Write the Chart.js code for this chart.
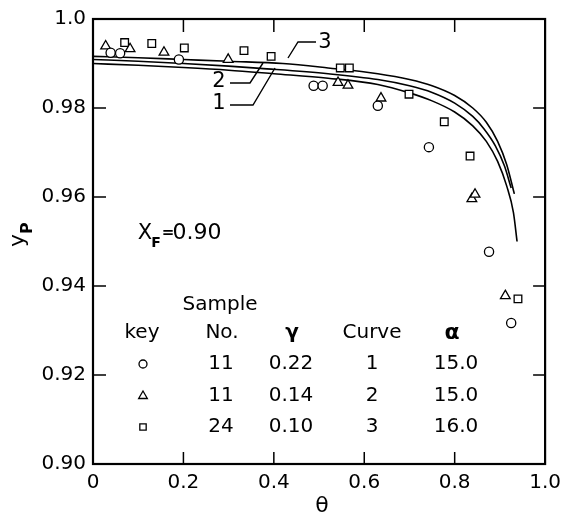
<!DOCTYPE html>
<html><head><meta charset="utf-8">
<script src="https://cdn.jsdelivr.net/npm/chart.js@4.4.1/dist/chart.umd.min.js"></script>
<style>html,body{margin:0;padding:0;background:#fff}#wrap{width:568px;height:516px}</style>
</head><body><div id="wrap"><canvas id="c" width="568" height="516"></canvas></div>
<script>
// Axis ticks
const xTickVals = [0, 0.2, 0.4, 0.6, 0.8, 1.0];
const xTickLabels = ['0', '0.2', '0.4', '0.6', '0.8', '1.0'];
const yTickVals = [0.90, 0.92, 0.94, 0.96, 0.98, 1.0];
const yTickLabels = ['0.90', '0.92', '0.94', '0.96', '0.98', '1.0'];

// Data: sample 11, gamma 0.22 (circles)
const circleTheta = [0.039, 0.060, 0.190, 0.488, 0.508, 0.630, 0.743, 0.876, 0.925];
const circleY     = [0.9924, 0.9923, 0.9909, 0.9850, 0.9850, 0.9805, 0.9712, 0.9477, 0.9317];
// sample 11, gamma 0.14 (triangles)
const triTheta = [0.028, 0.082, 0.157, 0.299, 0.542, 0.564, 0.637, 0.838, 0.845, 0.912];
const triY     = [0.9939, 0.9933, 0.9925, 0.9909, 0.9857, 0.9851, 0.9822, 0.9596, 0.9606, 0.9378];
// sample 24, gamma 0.10 (squares)
const sqTheta = [0.070, 0.130, 0.202, 0.334, 0.394, 0.547, 0.567, 0.699, 0.777, 0.834, 0.940];
const sqY     = [0.9947, 0.9945, 0.9935, 0.9929, 0.9916, 0.9890, 0.9890, 0.9831, 0.9769, 0.9692, 0.9371];

// Calculated curves
const curve1Theta = [0, 0.1, 0.2, 0.3, 0.4, 0.52, 0.63, 0.70, 0.75, 0.80, 0.84, 0.87, 0.895, 0.915, 0.93, 0.938];
const curve1Y     = [0.9900, 0.9896, 0.9891, 0.9885, 0.9877, 0.9867, 0.9853, 0.9834, 0.9816, 0.9791, 0.9760, 0.9725, 0.9680, 0.9625, 0.9565, 0.9500];
const curve2Theta = [0, 0.1, 0.2, 0.3, 0.37, 0.52, 0.63, 0.70, 0.75, 0.80, 0.84, 0.865, 0.89, 0.91, 0.925];
const curve2Y     = [0.9909, 0.9905, 0.9900, 0.9894, 0.9889, 0.9877, 0.9864, 0.9850, 0.9835, 0.9811, 0.9781, 0.9753, 0.9715, 0.9670, 0.9620];
const curve3Theta = [0, 0.1, 0.2, 0.3, 0.42, 0.52, 0.63, 0.70, 0.75, 0.80, 0.84, 0.87, 0.895, 0.915, 0.932];
const curve3Y     = [0.9916, 0.9913, 0.9909, 0.9905, 0.9900, 0.9890, 0.9877, 0.9864, 0.9850, 0.9828, 0.9800, 0.9768, 0.9725, 0.9673, 0.9607];

// Key table
const tableSampleNo = ['11', '11', '24'];
const tableGamma = ['0.22', '0.14', '0.10'];
const tableCurve = ['1', '2', '3'];
const tableAlpha = ['15.0', '15.0', '16.0'];
const tableStyles = ['circle', 'triangle', 'rect'];

const zip = (xs, ys) => xs.map((v, i) => ({x: v, y: ys[i]}));

Chart.defaults.font.family = 'DejaVu Sans';
Chart.defaults.color = '#000';

const F = 'DejaVu Sans';
function txt(ctx, s, x, y, size, weight, align) {
  ctx.font = (weight || 'normal') + ' ' + size + 'px "' + F + '"';
  ctx.textAlign = align || 'center';
  ctx.textBaseline = 'middle';
  ctx.fillText(s, x, y);
}
function marker(ctx, style, r, x, y) {
  ctx.save();
  ctx.fillStyle = '#fff'; ctx.strokeStyle = '#000'; ctx.lineWidth = 1.3;
  if (Chart.helpers && Chart.helpers.drawPoint) {
    Chart.helpers.drawPoint(ctx, {pointStyle: style, radius: r, borderWidth: 1.3, rotation: 0}, x, y);
  }
  ctx.restore();
}

const decor = {
  id: 'decor',
  afterDraw(chart) {
    const {ctx, chartArea: a, scales: {x, y}} = chart;
    ctx.save();
    ctx.strokeStyle = '#000';
    ctx.fillStyle = '#000';
    ctx.lineWidth = 2.2;
    ctx.strokeRect(a.left, a.top, a.right - a.left, a.bottom - a.top);
    ctx.lineWidth = 1.5;
    ctx.beginPath();
    xTickVals.slice(1, -1).forEach(v => {
      const px = x.getPixelForValue(v);
      ctx.moveTo(px, a.bottom); ctx.lineTo(px, a.bottom - 12);
      ctx.moveTo(px, a.top); ctx.lineTo(px, a.top + 13);
    });
    yTickVals.slice(1, -1).forEach(v => {
      const py = y.getPixelForValue(v);
      ctx.moveTo(a.left, py); ctx.lineTo(a.left + 13, py);
      ctx.moveTo(a.right, py); ctx.lineTo(a.right - 12, py);
    });
    ctx.stroke();

    // curve labels with leader lines
    ctx.lineWidth = 1.4;
    ctx.beginPath();
    ctx.moveTo(316, 42); ctx.lineTo(298, 42); ctx.lineTo(288, 58);
    ctx.moveTo(230, 83); ctx.lineTo(250, 83); ctx.lineTo(263, 63);
    ctx.moveTo(230, 105); ctx.lineTo(253, 105); ctx.lineTo(275, 68);
    ctx.stroke();
    txt(ctx, '3', 325, 43, 21);
    txt(ctx, '2', 219, 82, 21);
    txt(ctx, '1', 219, 104, 21);

    // x_F = 0.90
    txt(ctx, 'X', 145, 234, 21, 'normal');
    txt(ctx, 'F', 156, 243, 14, 'bold');
    txt(ctx, '=', 168, 233, 15, 'bold');
    txt(ctx, '0.90', 197, 233, 22, 'normal');

    // y axis title (rotated)
    ctx.save();
    ctx.translate(24, 247);
    ctx.rotate(-Math.PI / 2);
    ctx.textBaseline = 'alphabetic';
    ctx.textAlign = 'left';
    ctx.font = 'normal 22px "' + F + '"';
    ctx.fillText('y', 0, 0);
    ctx.font = 'bold 16px "' + F + '"';
    ctx.fillText('P', 13, 8);
    ctx.restore();

    // x axis title
    txt(ctx, 'θ', 322, 506, 22);

    // key table
    txt(ctx, 'Sample', 220, 305, 20);
    txt(ctx, 'key', 142, 333, 20);
    txt(ctx, 'No.', 222, 333, 20);
    txt(ctx, 'γ', 292, 333, 20, 'bold');
    txt(ctx, 'Curve', 372, 333, 20);
    txt(ctx, 'α', 452, 333, 22, 'bold');
    const rowsY = [364, 396, 427];
    const sizes = {circle: 4, triangle: 5, rect: 4.5};
    rowsY.forEach((ry, i) => {
      marker(ctx, tableStyles[i], sizes[tableStyles[i]], 143, ry);
      ctx.fillStyle = '#000';
      txt(ctx, tableSampleNo[i], 221, ry, 20);
      txt(ctx, tableGamma[i], 291, ry, 20);
      txt(ctx, tableCurve[i], 372, ry, 20);
      txt(ctx, tableAlpha[i], 456, ry, 20);
    });
    ctx.restore();
  }
};

const pointDs = (label, data, style, r) => ({
  label, data, type: 'scatter', showLine: false,
  pointStyle: style, pointRadius: r, pointHoverRadius: r,
  borderColor: '#000', backgroundColor: '#fff', pointBorderWidth: 1.3, borderWidth: 1.3
});
const curveDs = (label, data) => ({
  label, data, type: 'line', showLine: true, fill: false,
  borderColor: '#000', borderWidth: 1.6, pointRadius: 0,
  cubicInterpolationMode: 'monotone'
});

new Chart(document.getElementById('c'), {
  type: 'scatter',
  data: {
    datasets: [
      pointDs('Sample 11, γ 0.22', zip(circleTheta, circleY), 'circle', 4.6),
      pointDs('Sample 11, γ 0.14', zip(triTheta, triY), 'triangle', 5.6),
      pointDs('Sample 24, γ 0.10', zip(sqTheta, sqY), 'rect', 5.4),
      curveDs('Curve 1', zip(curve1Theta, curve1Y)),
      curveDs('Curve 2', zip(curve2Theta, curve2Y)),
      curveDs('Curve 3', zip(curve3Theta, curve3Y))
    ]
  },
  options: {
    responsive: false,
    animation: false,
    devicePixelRatio: 1,
    layout: {padding: {top: 13, right: 17, left: 0, bottom: 0}},
    plugins: {legend: {display: false}, tooltip: {enabled: false}},
    scales: {
      x: {
        type: 'linear', min: 0, max: 1,
        grid: {display: false, drawTicks: false},
        border: {display: false},
        ticks: {autoSkip: false, maxRotation: 0, padding: 7, color: '#000',
          font: {size: 20, family: F}, callback: (v, i) => xTickLabels[i]},
        afterBuildTicks: s => { s.ticks = xTickVals.map(v => ({value: v})); },
        afterFit: s => { s.height = 52; }
      },
      y: {
        type: 'linear', min: 0.90, max: 1.0,
        grid: {display: false, drawTicks: false},
        border: {display: false},
        ticks: {autoSkip: false, padding: 7, color: '#000',
          font: {size: 20, family: F}, callback: (v, i) => yTickLabels[i]},
        afterBuildTicks: s => { s.ticks = yTickVals.map(v => ({value: v})); },
        afterFit: s => { s.width = 93; }
      }
    }
  },
  plugins: [decor]
});
</script>
</body></html>
